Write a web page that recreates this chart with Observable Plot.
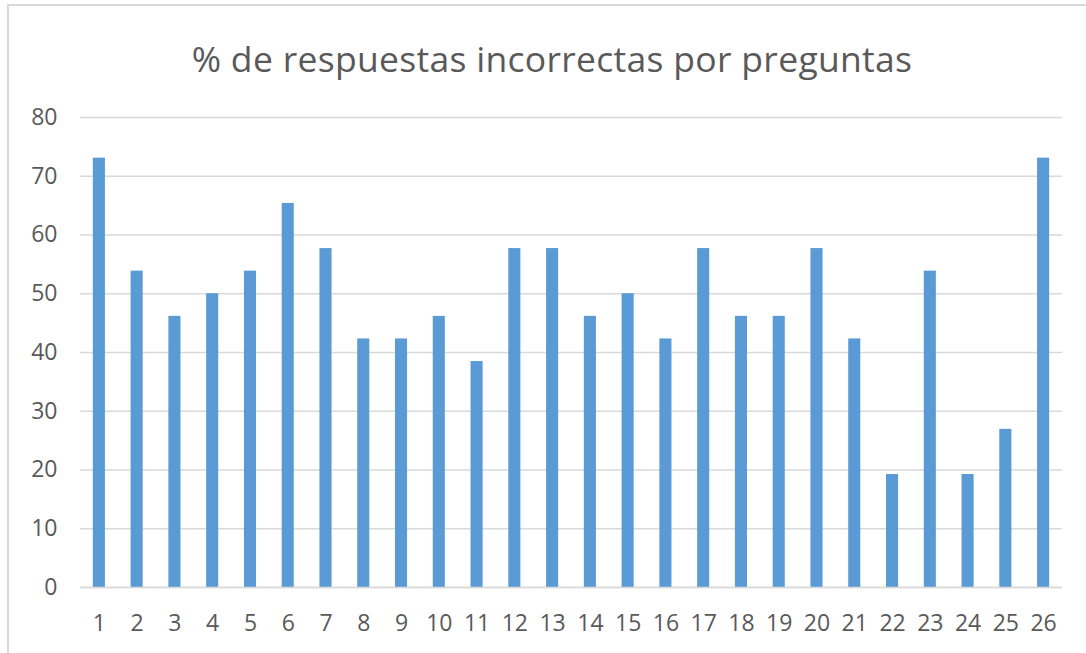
<!DOCTYPE html>
<html>
<head>
<meta charset="utf-8">
<script src="https://cdn.jsdelivr.net/npm/d3@7"></script>
<script src="https://cdn.jsdelivr.net/npm/@observablehq/plot@0.6"></script>
<style>
  html, body { margin: 0; padding: 0; background: #fff; overflow: hidden; width: 1086px; height: 653px; }
  #wrap { position: relative; width: 1086px; height: 653px; }
  #frame { position: absolute; left: 7px; top: 4px; width: 1200px; height: 800px; border: 2px solid #d9d9d9; box-sizing: border-box; }
  #title { position: absolute; left: 0; top: 0; width: 1104px; height: 90px; text-align: center; font-family: "Open Sans", sans-serif; font-size: 35.5px; color: #595959; line-height: 1; padding-top: 41px; box-sizing: border-box; letter-spacing: 0.3px; }
  #chart { position: absolute; left: 0; top: 90px; }
</style>
</head>
<body>
<div id="wrap">
  <div id="frame"></div>
  <div id="title">% de respuestas incorrectas por preguntas</div>
  <div id="chart"></div>
</div>
<script>
const questions = ["1","2","3","4","5","6","7","8","9","10","11","12","13","14","15","16","17","18","19","20","21","22","23","24","25","26"];
const pctIncorrect = [73.08, 53.85, 46.15, 50.00, 53.85, 65.38, 57.69, 42.31, 42.31, 46.15, 38.46, 57.69, 57.69, 46.15, 50.00, 42.31, 57.69, 46.15, 46.15, 57.69, 42.31, 19.23, 53.85, 19.23, 26.92, 73.08];
const yTicks = [0, 10, 20, 30, 40, 50, 60, 70, 80];

const data = questions.map((q, i) => ({q, v: pctIncorrect[i]}));

const chart = Plot.plot({
  width: 1086,
  height: 563,
  marginTop: 27,
  marginBottom: 66,
  marginLeft: 80,
  marginRight: 24,
  style: { fontFamily: "Open Sans, sans-serif", fontSize: "23px", color: "#595959", background: "transparent", overflow: "visible" },
  x: { domain: questions, paddingInner: 0.68, paddingOuter: 0.34, round: false, label: null },
  y: { domain: [0, 80], label: null },
  marks: [
    Plot.gridY(yTicks, { stroke: "#d9d9d9", strokeOpacity: 1, strokeWidth: 1.3 }),
    Plot.barY(data, { x: "q", y: "v", fill: "#5b9bd5" }),
    Plot.ruleY([0], { stroke: "#d9d9d9", strokeWidth: 1.5 }),
    Plot.axisY(yTicks, { tickSize: 0, tickPadding: 23, fill: "#595959", fontSize: 23 }),
    Plot.axisX({ tickSize: 0, tickPadding: 27, fill: "#595959", fontSize: 23 })
  ]
});
document.getElementById("chart").appendChild(chart);
</script>
</body>
</html>
